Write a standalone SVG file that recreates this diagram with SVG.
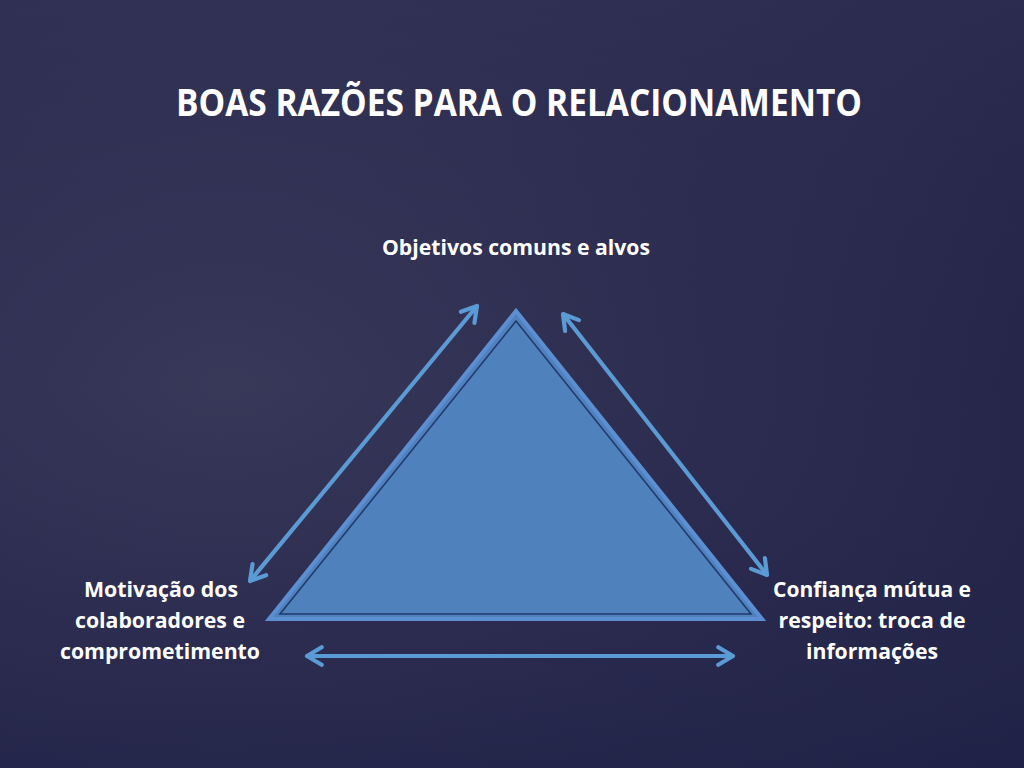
<svg xmlns="http://www.w3.org/2000/svg" width="1024" height="768" viewBox="0 0 1024 768">
<defs>
<radialGradient id="bg" cx="0.22" cy="0.5" r="0.9">
<stop offset="0" stop-color="#383859"/>
<stop offset="0.6" stop-color="#2b2b4f"/>
<stop offset="1" stop-color="#222447"/>
</radialGradient>
<linearGradient id="shade" x1="0" y1="0" x2="0" y2="1">
<stop offset="0" stop-color="#3a3a5e" stop-opacity="0.35"/>
<stop offset="0.5" stop-color="#2c2c50" stop-opacity="0"/>
<stop offset="1" stop-color="#1c2046" stop-opacity="0.45"/>
</linearGradient>
<marker id="chev" viewBox="0 0 12 12" refX="10" refY="6" markerWidth="22" markerHeight="22" markerUnits="userSpaceOnUse" orient="auto-start-reverse">
<path d="M2,1.2 L10,6 L2,10.8" fill="none" stroke="#5b9bd5" stroke-width="2.3" stroke-linecap="round" stroke-linejoin="round"/>
</marker>
</defs>
<style>
text{font-family:"Open Sans","Liberation Sans",sans-serif;font-weight:bold;fill:#ffffff;text-anchor:middle}
.title{font-size:37px}
.lbl{font-size:20.5px}
.arr{stroke:#5b9bd5;stroke-width:4.2;fill:none;marker-start:url(#chev);marker-end:url(#chev)}
</style>
<rect width="1024" height="768" fill="url(#bg)"/>
<rect width="1024" height="768" fill="url(#shade)"/>
<g id="title"><text class="title" x="519" y="116" textLength="686" lengthAdjust="spacingAndGlyphs">BOAS RAZÕES PARA O RELACIONAMENTO</text></g>
<g id="triangle">
<polygon points="516,311 269,619 762,619" fill="#4f81bd" stroke="#5b8fd2" stroke-width="4" stroke-linejoin="miter"/>
<polygon points="516,321 280,614 751,614" fill="#4f81bd" stroke="#223a6e" stroke-width="1.6"/>
</g>
<g id="connectors">
<line class="arr" x1="477" y1="306" x2="250" y2="581"/>
<line class="arr" x1="563" y1="314" x2="767" y2="575"/>
<line class="arr" x1="307" y1="656" x2="733" y2="656"/>
</g>
<g id="top-node"><text class="lbl" x="516" y="255" textLength="268" lengthAdjust="spacingAndGlyphs">Objetivos comuns e alvos</text></g>
<g id="left-node">
<text class="lbl" x="161" y="597" textLength="154" lengthAdjust="spacingAndGlyphs">Motivação dos</text>
<text class="lbl" x="160" y="628" textLength="170" lengthAdjust="spacingAndGlyphs">colaboradores e</text>
<text class="lbl" x="160" y="659" textLength="200" lengthAdjust="spacingAndGlyphs">comprometimento</text>
</g>
<g id="right-node">
<text class="lbl" x="872" y="597" textLength="198" lengthAdjust="spacingAndGlyphs">Confiança mútua e</text>
<text class="lbl" x="872" y="628" textLength="187" lengthAdjust="spacingAndGlyphs">respeito: troca de</text>
<text class="lbl" x="872" y="659" textLength="132" lengthAdjust="spacingAndGlyphs">informações</text>
</g>
</svg>
